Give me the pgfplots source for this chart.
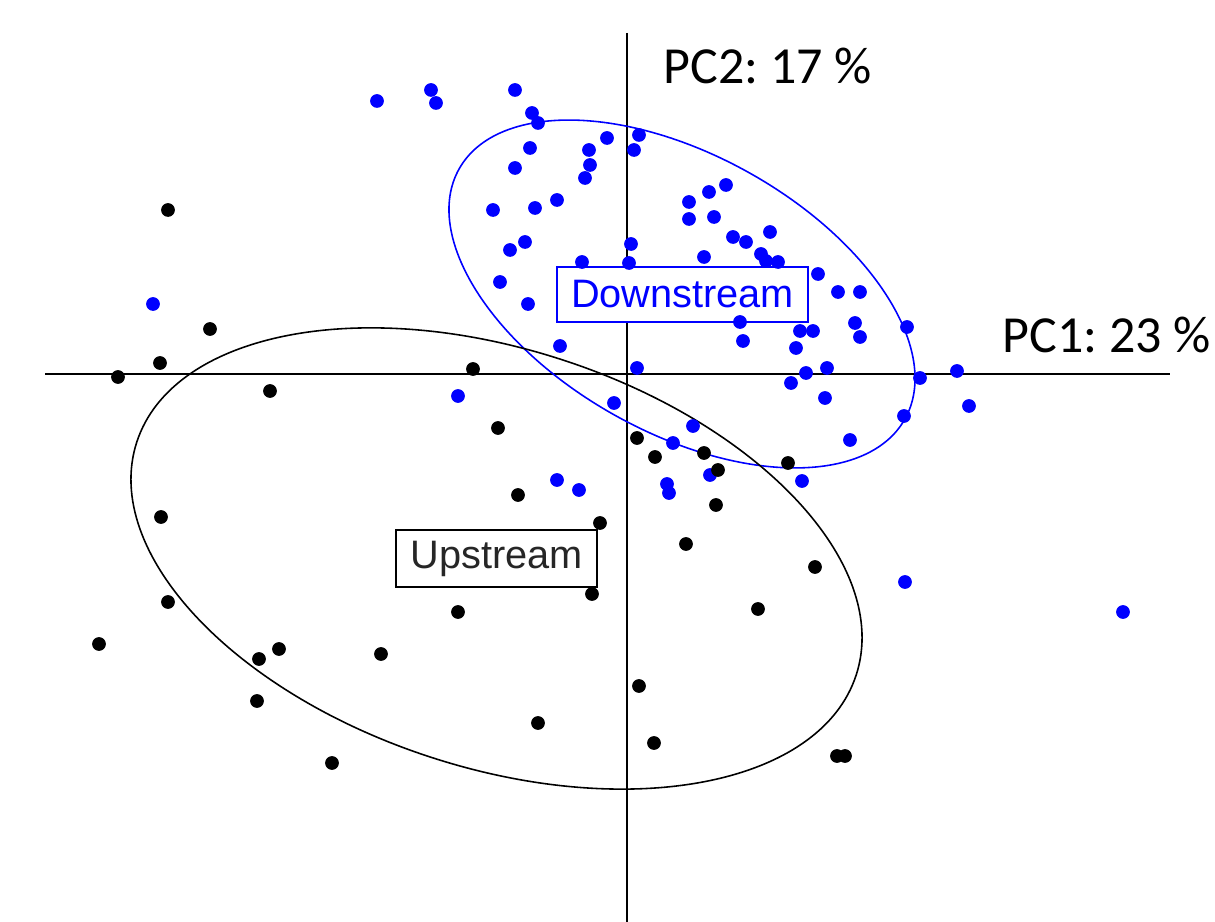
\documentclass[border=0pt]{standalone}
\usepackage{pgfplots}
\pgfplotsset{compat=1.18}
\usepackage{fontspec}
\setmainfont{Liberation Sans}
\newfontfamily\carlito{Carlito}
\begin{document}
\frenchspacing
\begin{tikzpicture}
\useasboundingbox (0,0) rectangle (12.15cm,9.22cm);
\clip (0,0) rectangle (12.15cm,9.22cm);
\begin{axis}[at={(0,0)}, anchor=south west, scale only axis, width=12.15cm, height=9.22cm,
  xmin=0, xmax=1215, ymin=0, ymax=922, y dir=reverse,
  hide axis, clip=false]
% axis cross lines
\addplot[black, line width=0.7pt] coordinates {(45,374) (1170,374)};
\addplot[black, line width=0.7pt] coordinates {(627,33) (627,922)};
% Downstream (blue)
\addplot[only marks, mark=*, mark size=1.75pt, mark options={draw=blue, fill=blue}] coordinates {
(377,101) (431,90) (436,103) (515,90) (532,113) (538,123) (607,138) (639,135) (634,150) (589,150)
(590,165) (585,178) (530,148) (515,168) (557,200) (535,208) (493,210) (525,242) (510,250) (582,262)
(631,244) (629,263) (500,282) (528,304) (560,346) (637,368) (726,185) (709,192) (689,202) (689,219)
(714,217) (770,232) (733,237) (746,242) (704,257) (761,254) (766,261) (778,262) (818,274) (838,292)
(860,292) (907,327) (855,323) (860,337) (800,331) (813,331) (743,341) (796,348) (740,322) (806,373)
(827,368) (791,383) (920,378) (957,371) (969,406) (825,398) (904,416) (850,440) (614,403) (693,426)
(673,443) (710,475) (667,484) (669,493) (557,480) (579,490) (802,481) (458,396) (153,304) (905,582)
(1123,612)};
% Upstream (black)
\addplot[only marks, mark=*, mark size=1.75pt, mark options={draw=black, fill=black}] coordinates {
(168,210) (210,329) (160,363) (118,377) (270,391) (473,369) (498,428) (637,438) (655,457) (704,453)
(718,470) (788,463) (518,495) (600,523) (716,505) (686,544) (815,567) (592,594) (161,517) (168,602)
(99,644) (279,649) (259,659) (381,654) (458,612) (257,701) (332,763) (538,723) (639,686) (758,609)
(654,743) (837,756) (845,756)};
% ellipses
\draw[blue, line width=0.45pt] (axis cs:682,294) circle [x radius=2.556cm, y radius=1.386cm, rotate=-29.3];
\draw[black, line width=0.45pt] (axis cs:496.5,558.5) circle [x radius=3.781cm, y radius=2.093cm, rotate=-17.9];
% group labels
\node[draw=blue, fill=white, text=blue, line width=0.6pt, inner sep=0pt,
  minimum width=2.51cm, minimum height=0.55cm, font=\fontsize{11.3}{13}\selectfont]
  at (axis cs:682.5,294.5) {Downstream};
\node[draw=black, fill=white, text=black!85, line width=0.6pt, inner sep=0pt,
  minimum width=2.01cm, minimum height=0.57cm, font=\fontsize{11.3}{13}\selectfont]
  at (axis cs:496.5,558.5) {Upstream};
% axis labels
\node[anchor=base west, inner sep=0pt, font=\carlito\fontsize{14.8}{18}\selectfont] at (axis cs:663,84) {PC2: 17 \%};
\node[anchor=base west, inner sep=0pt, font=\carlito\fontsize{14.8}{18}\selectfont] at (axis cs:1002,353) {PC1: 23 \%};
\end{axis}
\end{tikzpicture}
\end{document}
